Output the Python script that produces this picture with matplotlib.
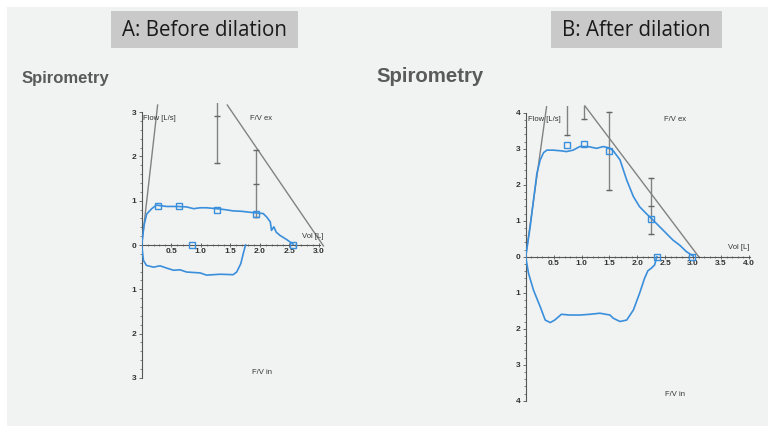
import numpy as np
import matplotlib
matplotlib.use('Agg')
import matplotlib.pyplot as plt
from matplotlib.patches import Rectangle
from matplotlib.ticker import FixedLocator, FuncFormatter

W, H = 773, 433

# ---- Panel A: before dilation ----
a_ex_vol = [0, 0.04, 0.085, 0.17, 0.25, 0.42, 0.6, 0.76, 0.88, 0.99, 1.1, 1.27, 1.4, 1.55, 1.7, 1.89, 2.06,
            2.12, 2.18, 2.20, 2.24, 2.28, 2.34, 2.46, 2.57]
a_ex_flow = [0, 0.45, 0.7, 0.82, 0.9, 0.87, 0.87, 0.86, 0.82, 0.84, 0.84, 0.82, 0.8, 0.77, 0.76, 0.73, 0.71,
             0.63, 0.52, 0.33, 0.41, 0.29, 0.22, 0.12, 0.015]
a_in_vol = [0, 0.03, 0.08, 0.2, 0.31, 0.42, 0.54, 0.65, 0.76, 0.99, 1.1, 1.33, 1.55, 1.61, 1.68, 1.72, 1.76]
a_in_flow = [0, -0.35, -0.46, -0.5, -0.47, -0.52, -0.57, -0.56, -0.61, -0.63, -0.68, -0.66, -0.67, -0.61,
             -0.42, -0.2, 0]
a_mark_vol = [0.27, 0.63, 1.28, 1.93, 0.86, 2.57]
a_mark_flow = [0.89, 0.89, 0.80, 0.71, 0, 0]
a_steep = ([0, 0.27], [0, 3.16])
a_pred = ([1.45, 3.08], [3.16, -0.02])
a_err_x = [1.28, 1.93]
a_err_lo = [1.86, 0.64]
a_err_hi = [3.3, 2.14]
a_err_caps = [[2.92, 1.86], [2.14, 1.38, 0.64]]

# ---- Panel B: after dilation ----
b_ex_vol = [0, 0.08, 0.14, 0.2, 0.26, 0.32, 0.38, 0.49, 0.64, 0.73, 0.85, 0.97, 1.12, 1.27, 1.39, 1.5, 1.57,
            1.69, 1.81, 1.93, 2.04, 2.16, 2.28, 2.46, 2.64, 2.76, 2.88, 3.0]
b_ex_flow = [0, 0.83, 1.57, 2.31, 2.69, 2.89, 2.96, 2.96, 2.94, 2.92, 2.96, 3.06, 3.06, 3.01, 3.06, 3.02, 2.94,
             2.69, 2.13, 1.67, 1.39, 1.20, 1.02, 0.74, 0.46, 0.32, 0.14, 0.02]
b_in_vol = [0, 0.05, 0.14, 0.26, 0.35, 0.44, 0.52, 0.64, 0.79, 0.97, 1.15, 1.33, 1.51, 1.57, 1.69, 1.81, 1.93,
            2.04, 2.13, 2.19, 2.25, 2.31, 2.35]
b_in_flow = [0, -0.46, -0.93, -1.39, -1.76, -1.83, -1.76, -1.6, -1.62, -1.62, -1.6, -1.57, -1.62, -1.71,
             -1.80, -1.76, -1.48, -1.02, -0.6, -0.39, -0.32, -0.23, 0]
b_mark_vol = [0.745, 1.04, 1.49, 2.24, 2.35, 2.98]
b_mark_flow = [3.10, 3.12, 2.94, 1.06, 0, 0]
b_steep = ([0, 0.376], [0, 4.19])
b_pred = ([1.06, 3.11], [4.19, -0.02])
b_err_x = [0.745, 1.04, 1.49, 2.24]
b_err_lo = [3.38, 3.82, 1.85, 0.62]
b_err_hi = [4.4, 4.4, 4.03, 2.18]
b_err_caps = [[3.38], [3.82], [4.03, 1.85], [2.18, 1.41, 0.62]]

BLUE = '#3a8fdc'
GRAY = '#828282'
TICKFONT = ['Liberation Sans Narrow', 'Liberation Sans', 'DejaVu Sans']

fig = plt.figure(figsize=(W / 100, H / 100), dpi=100)
fig.patch.set_facecolor('white')
fig.patches.append(Rectangle((7 / W, 1 - 426 / H), 761 / W, 419 / H, transform=fig.transFigure,
                             facecolor='#f1f2f2', edgecolor='none', zorder=-5))


def box_title(x0, x1, text):
    fig.patches.append(Rectangle((x0 / W, 1 - 48 / H), (x1 - x0) / W, 37 / H, transform=fig.transFigure,
                                 facecolor='#c9c9c9', edgecolor='none', zorder=1))
    fig.text((x0 + x1) / 2 / W, 1 - 30 / H, text, ha='center', va='center', fontsize=14.8,
             family='Open Sans', color='#1a1a1a', zorder=2)


box_title(111, 298, 'A: Before dilation')
box_title(551, 722, 'B: After dilation')
fig.text(22 / W, 1 - 79 / H, 'Spirometry', ha='left', va='center', fontsize=12, fontweight='bold',
         family=TICKFONT, color='#5a5a5a')
fig.text(376 / W, 1 - 76 / H, 'Spirometry', ha='left', va='center', fontsize=14.7, fontweight='bold',
         family=TICKFONT, color='#5a5a5a')


def panel(rect, xlim, ylim, ymax, xmax, ex, inn, marks, steep, pred, errs, labels):
    ax = fig.add_axes(rect)
    ax.set_facecolor('none')
    ax.set_xlim(*xlim)
    ax.set_ylim(*ylim)
    for s in ['top', 'right']:
        ax.spines[s].set_visible(False)
    ax.spines['left'].set_position(('data', 0))
    ax.spines['bottom'].set_position(('data', 0))
    ax.spines['left'].set_bounds(-ymax, ymax)
    ax.spines['bottom'].set_bounds(0, xmax)
    for s in ['left', 'bottom']:
        ax.spines[s].set_color('#555555')
        ax.spines[s].set_linewidth(0.8)
    ax.xaxis.set_major_locator(FixedLocator(np.arange(0.5, 4.01, 0.5)[:int(xmax / 0.5)]))
    ax.yaxis.set_major_locator(FixedLocator(np.arange(-ymax, ymax + 0.01, 1)))
    ax.xaxis.set_minor_locator(FixedLocator(np.round(np.arange(0.1, xmax, 0.1), 2)))
    ax.yaxis.set_minor_locator(FixedLocator(np.round(np.arange(-ymax + 0.2, ymax, 0.2), 2)))
    ax.xaxis.set_major_formatter(FuncFormatter(lambda v, p: f'{v:.1f}'))
    ax.yaxis.set_major_formatter(FuncFormatter(lambda v, p: f'{abs(v):.0f}'))
    ax.tick_params(which='both', color='#555555', labelsize=6, pad=1.2, labelcolor='#333333')
    ax.tick_params(axis='x', which='both', direction='inout')
    ax.tick_params(axis='y', which='both', direction='out')
    ax.tick_params(which='major', length=2.5, width=0.6)
    ax.tick_params(which='minor', length=1.5, width=0.5)
    for lab in ax.get_xticklabels() + ax.get_yticklabels():
        lab.set_family(TICKFONT)
        lab.set_fontweight('bold')

    ax.plot(*steep, color=GRAY, lw=1.0, zorder=2)
    ax.plot(*pred, color=GRAY, lw=1.0, zorder=2, clip_on=False)
    for x, lo, hi, caps in zip(*errs):
        ax.plot([x, x], [lo, hi], color=GRAY, lw=1.0, zorder=2)
        ax.plot([x] * len(caps), caps, ls='none', marker='_', ms=5, mew=1.0, color='#666666', zorder=2)
    ax.plot(*ex, color=BLUE, lw=1.2, zorder=3)
    ax.plot(*inn, color=BLUE, lw=1.2, zorder=3)
    ax.plot(*marks, ls='none', marker='s', ms=5, mfc='none', mec=BLUE, mew=1.0, zorder=4, clip_on=False)
    for (x, y, t) in labels:
        ax.text(x, y, t, fontsize=5.5, family=TICKFONT, color='#333333', ha='left', va='center')
    return ax


# Panel A: x 0 at px 141.7 (59 px/L), y 0 at px 245 (44.3 px per L/s)
ax_a_l, ax_a_r = 141.7, 141.7 + 3.1 * 59
ax_a_t, ax_a_b = 245 - 3.2 * 44.3, 245 + 3.05 * 44.3
panel([ax_a_l / W, 1 - ax_a_b / H, (ax_a_r - ax_a_l) / W, (ax_a_b - ax_a_t) / H],
      (0, 3.1), (-3.05, 3.2), 3, 3.03,
      (a_ex_vol, a_ex_flow), (a_in_vol, a_in_flow), (a_mark_vol, a_mark_flow), a_steep, a_pred,
      (a_err_x, a_err_lo, a_err_hi, a_err_caps),
      [(0.03, 2.86, 'Flow [L/s]'), (1.84, 2.86, 'F/V ex'), (2.72, 0.2, 'Vol [L]'), (1.87, -2.88, 'F/V in')])

# Panel B: x 0 at px 525.7 (55.8 px/L), y 0 at px 256.7 (36 px per L/s)
ax_b_l, ax_b_r = 525.7, 525.7 + 4.05 * 55.8
ax_b_t, ax_b_b = 256.7 - 4.2 * 36, 256.7 + 4.05 * 36
panel([ax_b_l / W, 1 - ax_b_b / H, (ax_b_r - ax_b_l) / W, (ax_b_b - ax_b_t) / H],
      (0, 4.05), (-4.05, 4.2), 4, 4.02,
      (b_ex_vol, b_ex_flow), (b_in_vol, b_in_flow), (b_mark_vol, b_mark_flow), b_steep, b_pred,
      (b_err_x, b_err_lo, b_err_hi, b_err_caps),
      [(0.04, 3.8, 'Flow [L/s]'), (2.48, 3.8, 'F/V ex'), (3.62, 0.26, 'Vol [L]'), (2.49, -3.84, 'F/V in')])

fig.savefig('out.png', dpi=100)
